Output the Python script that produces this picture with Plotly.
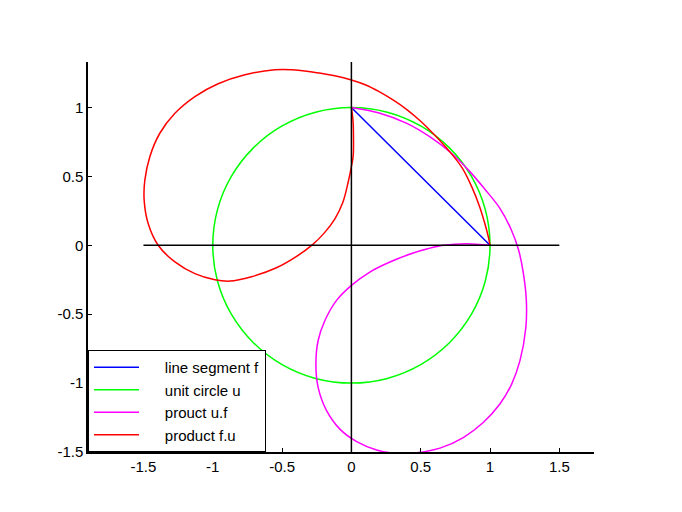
import plotly.graph_objects as go

# Line segment f
seg_x = [0.0, 1.0]
seg_y = [1.0, 0.0]

# Unit circle u (counter-clockwise from (1,0))
circ_x = [1.0, 0.966, 0.866, 0.707, 0.5, 0.259, 0.0, -0.259, -0.5, -0.707, -0.866, -0.966,
          -1.0, -0.966, -0.866, -0.707, -0.5, -0.259, 0.0, 0.259, 0.5, 0.707, 0.866, 0.966, 1.0]
circ_y = [0.0, 0.259, 0.5, 0.707, 0.866, 0.966, 1.0, 0.966, 0.866, 0.707, 0.5, 0.259,
          0.0, -0.259, -0.5, -0.707, -0.866, -0.966, -1.0, -0.966, -0.866, -0.707, -0.5, -0.259, 0.0]

# prouct u.f (magenta)
uf_x = [0.0, 0.2, 0.4, 0.57, 0.72, 0.85, 0.96, 1.07, 1.15, 1.205, 1.24, 1.262, 1.258,
        1.216, 1.156, 1.071, 0.951, 0.807, 0.639, 0.47, 0.326, 0.182, 0.038, -0.083,
        -0.179, -0.24, -0.256, -0.24, -0.191, -0.107, 0.0, 0.133, 0.278, 0.446, 0.55, 0.662,
        0.83, 1.0]
uf_y = [1.0, 0.96, 0.885, 0.785, 0.67, 0.54, 0.41, 0.27, 0.12, -0.03, -0.2, -0.4, -0.6,
        -0.837, -1.007, -1.152, -1.286, -1.395, -1.472, -1.505, -1.51, -1.485, -1.425, -1.334,
        -1.20, -1.031, -0.861, -0.691, -0.546, -0.40, -0.291, -0.194, -0.121, -0.056, -0.025, 0.0,
        0.012, 0.0]

# product f.u (red)
fu_x = [0.0, 0.012, 0.015, 0.013, 0.0, -0.025, -0.062, -0.12, -0.195, -0.28, -0.395, -0.545,
        -0.72, -0.877, -0.985, -1.129, -1.273, -1.394, -1.466, -1.495, -1.49, -1.454, -1.382,
        -1.273, -1.129, -0.961, -0.768, -0.552, -0.431, -0.263, -0.12, 0.0, 0.1, 0.2, 0.3,
        0.4, 0.5, 0.6, 0.7, 0.8, 0.87, 0.925, 0.962, 0.988, 1.0]
fu_y = [1.0, 0.9, 0.78, 0.65, 0.57, 0.45, 0.31, 0.19, 0.09, 0.005, -0.08, -0.165,
        -0.228, -0.26, -0.25, -0.206, -0.121, 0.0, 0.158, 0.328, 0.473, 0.643, 0.813,
        0.958, 1.079, 1.172, 1.237, 1.274, 1.274, 1.254, 1.23, 1.2, 1.165, 1.115, 1.055,
        0.985, 0.9, 0.8, 0.69, 0.56, 0.42, 0.28, 0.16, 0.06, 0.0]

# Black coordinate axes lines
hx_x = [-1.5, 1.5]
hx_y = [0.0, 0.0]
vy_x = [0.0, 0.0]
vy_y = [-1.5, 1.5]

x_ticks = [-1.5, -1, -0.5, 0, 0.5, 1, 1.5]
x_labels = ["-1.5", "-1", "-0.5", "0", "0.5", "1", "1.5"]
y_ticks = [-1.5, -1, -0.5, 0, 0.5, 1]
y_labels = ["-1.5", "-1", "-0.5", "0", "0.5", "1"]

pad = "\u00a0" * 5

fig = go.Figure()
fig.add_trace(go.Scatter(x=seg_x, y=seg_y, mode="lines", name=pad + "line segment f",
                         line=dict(color="#0000ff", width=1.5)))
fig.add_trace(go.Scatter(x=circ_x, y=circ_y, mode="lines", name=pad + "unit circle u",
                         line=dict(color="#00ff00", width=1.5, shape="spline")))
fig.add_trace(go.Scatter(x=uf_x, y=uf_y, mode="lines", name=pad + "prouct u.f",
                         line=dict(color="#ff00ff", width=1.5, shape="spline", smoothing=1)))
fig.add_trace(go.Scatter(x=fu_x, y=fu_y, mode="lines", name=pad + "product f.u",
                         line=dict(color="#ff0000", width=1.5, shape="spline", smoothing=1)))
fig.add_trace(go.Scatter(x=hx_x, y=hx_y, mode="lines", showlegend=False,
                         line=dict(color="black", width=1.5)))
fig.add_trace(go.Scatter(x=vy_x, y=vy_y, mode="lines", showlegend=False,
                         line=dict(color="black", width=1.5)))

font = dict(family="Liberation Sans, Arial, sans-serif", size=15, color="black")
fig.update_layout(
    width=666, height=496,
    margin=dict(l=80, r=80, t=54, b=52),
    paper_bgcolor="white", plot_bgcolor="white",
    font=font,
    xaxis=dict(range=[-1.9, 1.75], tickvals=x_ticks, ticktext=x_labels,
               showgrid=False, zeroline=False, showline=True, linecolor="black",
               linewidth=1.5, ticks="inside", ticklen=4, tickcolor="black",
               mirror=False, fixedrange=True),
    yaxis=dict(range=[-1.5, 1.33], tickvals=y_ticks, ticktext=y_labels,
               showgrid=False, zeroline=False, showline=True, linecolor="black",
               linewidth=1.5, ticks="inside", ticklen=4, tickcolor="black",
               mirror=False, fixedrange=True),
    legend=dict(x=0, y=0, xanchor="left", yanchor="bottom",
                bgcolor="white", bordercolor="black", borderwidth=1,
                font=font, itemwidth=45, tracegroupgap=0),
    showlegend=True,
)

fig.write_html("out.html")
